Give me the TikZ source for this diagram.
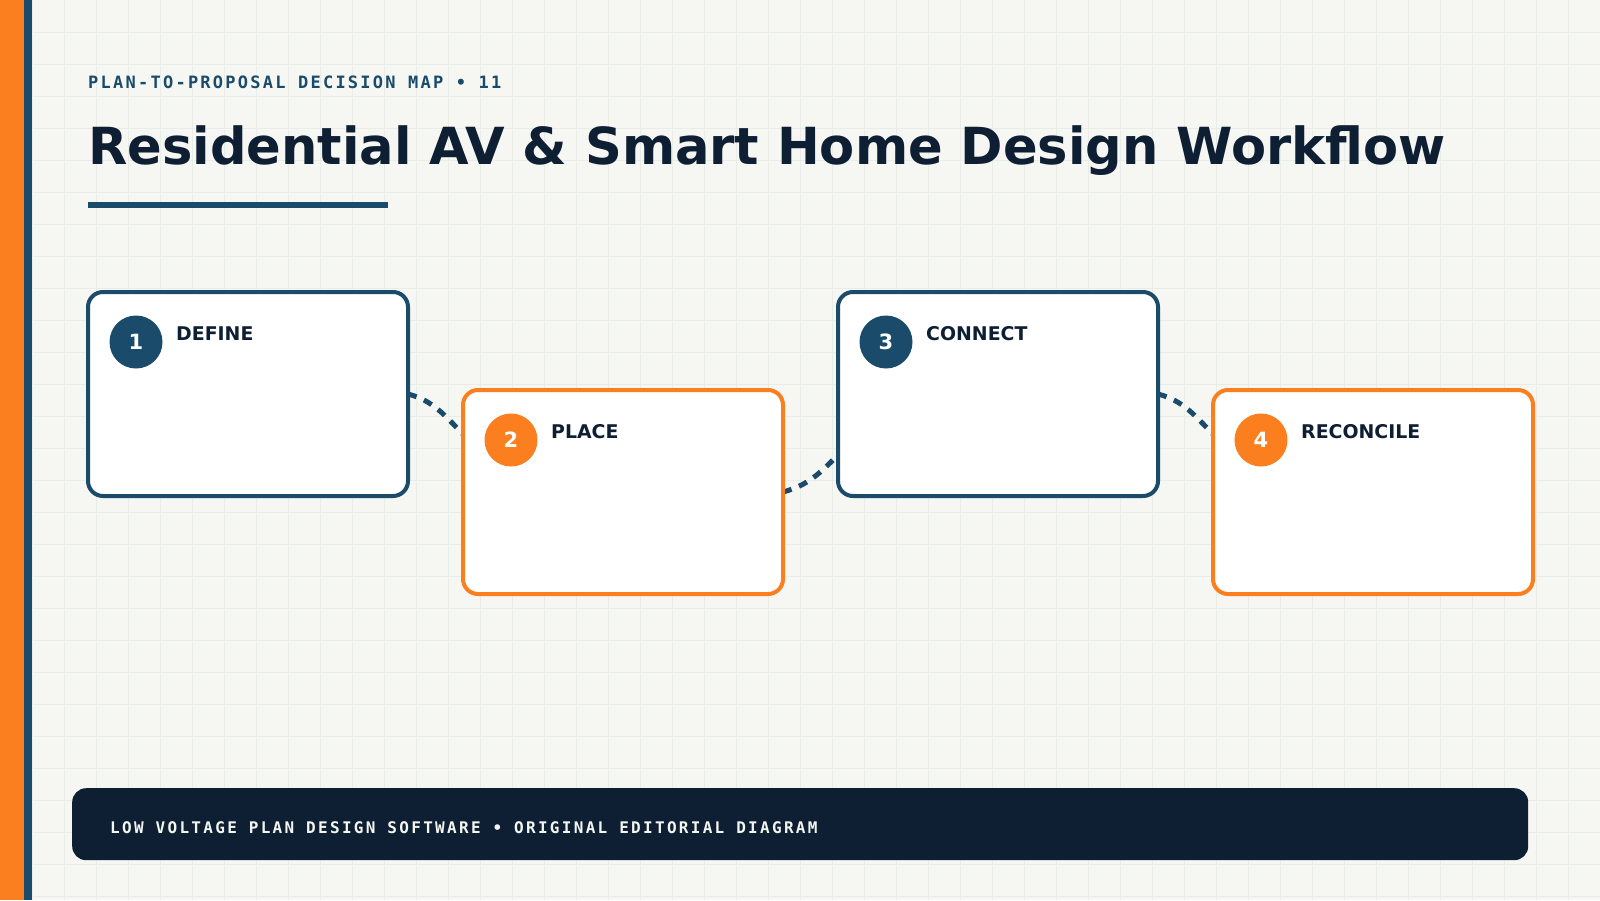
\documentclass[tikz,border=0pt]{standalone}
\usepackage{fontspec}
\setmainfont{DejaVu Sans}
\newfontfamily\kickerfont[LetterSpace=13.2]{DejaVu Sans Mono}
\newfontfamily\footerfont[LetterSpace=14.4]{DejaVu Sans Mono}
\usepackage{xcolor}
\usetikzlibrary{positioning}
\definecolor{paper}{HTML}{F6F7F3}
\definecolor{gridline}{HTML}{E8EDE8}
\definecolor{deepblue}{HTML}{1B4B6B}
\definecolor{signal}{HTML}{FB7F1F}
\definecolor{ink}{HTML}{0E1E33}
\definecolor{chalk}{HTML}{F3F5F0}
\pgfdeclarelayer{grid}
\pgfdeclarelayer{links}
\pgfsetlayers{grid,links,main}

\begin{document}
\begin{tikzpicture}[x=1pt, y=-1pt, node distance=375pt,
  stepcard/.style={rectangle, rounded corners=15pt, line width=4pt, fill=white,
    minimum width=320pt, minimum height=204pt, outer sep=0pt, inner sep=0pt},
  badge/.style={circle, minimum size=53pt, inner sep=0pt, text=white,
    font=\bfseries\fontsize{21}{21}\selectfont},
  cardtitle/.style={anchor=base west, inner sep=0pt, text=ink,
    font=\bfseries\fontsize{18.9}{18.9}\selectfont},
  link/.style={draw=deepblue, line width=5pt, dash pattern=on 9pt off 8pt}]
\useasboundingbox (0,0) rectangle (1600,900);
\begin{pgfonlayer}{grid}
\fill[paper] (0,0) rectangle (1600,900);
\foreach \g in {32,64,...,1568} \draw[gridline, line width=1pt] (\g,0) -- (\g,900);
\foreach \g in {32,64,...,896} \draw[gridline, line width=1pt] (0,\g) -- (1600,\g);
\end{pgfonlayer}
\fill[signal] (0,0) rectangle (24,900);
\fill[deepblue] (24,0) rectangle (32,900);

\node[anchor=base west, inner sep=0pt, text=deepblue,
  font=\kickerfont\bfseries\fontsize{17}{17}\selectfont] (kicker) at (88,88)
  {PLAN-TO-PROPOSAL DECISION MAP • 11};
\node[anchor=base west, inner sep=0pt, text=ink,
  font=\bfseries\fontsize{51.1}{51.1}\selectfont] (title) at (88,164)
  {Residential AV \& Smart Home Design Workflow};
\draw[deepblue, line width=6pt] (88,205) -- (388,205);

\node[stepcard, draw=deepblue] (define) at (248,394) {};
\node[stepcard, draw=signal, right of=define, yshift=-98pt] (place) {};
\node[stepcard, draw=deepblue, right of=place, yshift=98pt] (connect) {};
\node[stepcard, draw=signal, right of=connect, yshift=-98pt] (reconcile) {};
\foreach \card/\num/\tone/\name in {define/1/deepblue/DEFINE, place/2/signal/PLACE,
    connect/3/deepblue/CONNECT, reconcile/4/signal/RECONCILE} {
  \node[badge, fill=\tone] (\card-badge) at ([xshift=48pt, yshift=-50pt]\card.north west) {\num};
  \node[cardtitle] (\card-title) at ([xshift=88pt, yshift=-48pt]\card.north west) {\name};
}
\begin{pgfonlayer}{links}
\draw[link] (define.east) to[out=-15, in=135] ([yshift=-44pt]place.north west);
\draw[link] (place.east) to[out=15, in=-135] ([yshift=41pt]connect.south west);
\draw[link] (connect.east) to[out=-15, in=135] ([yshift=-44pt]reconcile.north west);
\end{pgfonlayer}

\node[anchor=north west, fill=ink, rounded corners=14pt, minimum width=1456pt,
  minimum height=72pt, inner sep=0pt] (footer) at (72,788) {};
\node[anchor=base west, inner sep=0pt, text=chalk,
  font=\footerfont\bfseries\fontsize{16}{16}\selectfont] (footnote) at (110,833)
  {LOW VOLTAGE PLAN DESIGN SOFTWARE • ORIGINAL EDITORIAL DIAGRAM};
\end{tikzpicture}
\end{document}
